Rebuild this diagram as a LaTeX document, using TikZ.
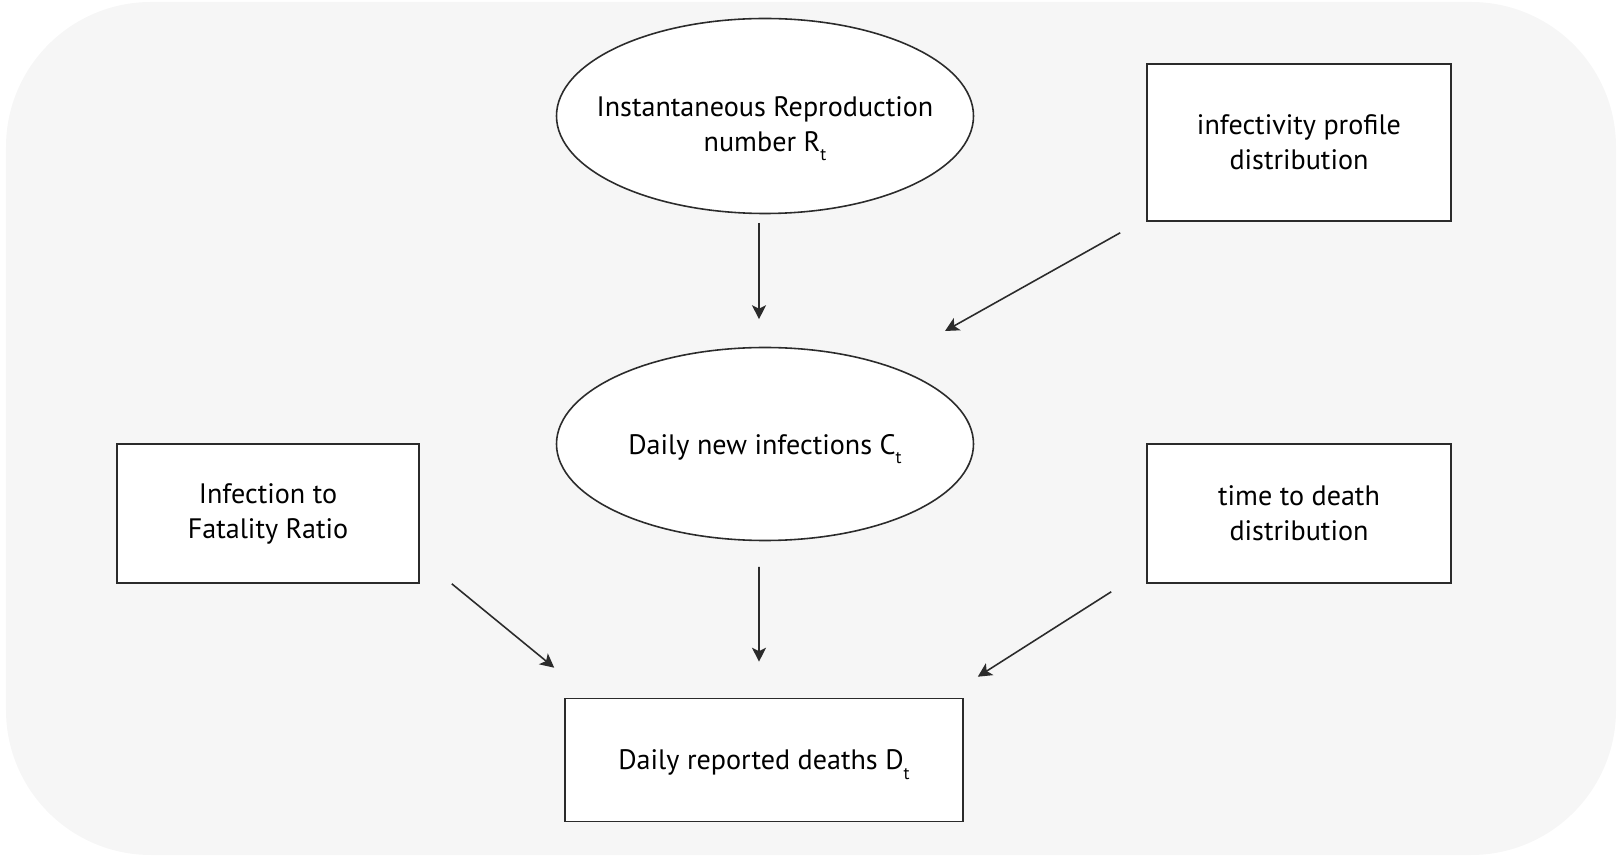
\documentclass[tikz,border=0pt]{standalone}
\usepackage{fontspec}
\setmainfont{PT Sans}
\usetikzlibrary{shapes.geometric,arrows.meta}
\definecolor{panelgray}{HTML}{F6F6F6}
\definecolor{linegray}{HTML}{2B2B2B}
\newcommand{\lowsub}[1]{\raisebox{-2.6pt}{\fontsize{5}{5}\selectfont #1}}
\tikzset{
  quantity/.style={ellipse, draw=linegray, fill=white, line width=0.45pt,
    minimum width=4.17cm, minimum height=1.95cm, inner sep=-0.3cm, align=center},
  inputbox/.style={rectangle, draw=linegray, fill=white, line width=0.45pt,
    minimum width=3.04cm, minimum height=1.39cm, inner sep=0pt, align=center},
  flow/.style={-{Stealth[length=1.4mm,width=1.4mm,inset=0.35mm]}, draw=linegray, line width=0.45pt}
}
\begin{document}
\begin{tikzpicture}[node distance=2cm, font=\fontsize{8}{10}\selectfont]
            \useasboundingbox (0,0) rectangle (16.19,8.57);
            \fill[panelgray, rounded corners=1.45cm] (0.06,0.02) rectangle (16.16,8.55);
            \node(R) [quantity, text height=0.8cm] at (7.65,7.41) {Instantaneous Reproduction\\number R\lowsub{t}};
            \node(C) [quantity, below of=R, node distance=3.28cm, minimum height=1.93cm, text depth=0pt] {Daily new infections C\lowsub{t}};
            \node(D) [inputbox, below of=C, node distance=3.16cm, minimum width=3.98cm, minimum height=1.23cm, xshift=-0.01cm, text depth=0pt] {Daily reported deaths D\lowsub{t}};
            \node(info) [inputbox, right of=R, node distance=5.34cm, yshift=-0.265cm, minimum height=1.57cm] {infectivity profile\\distribution};
            \node(death) [inputbox, below of=info, node distance=3.71cm] {time to death\\distribution};
            \node(IFR) [inputbox, left of=death, node distance=10.31cm, minimum width=3.02cm] {Infection to\\Fatality Ratio};
            \draw[flow, shorten <=0.085cm, shorten >=0.275cm]([xshift=-0.06cm]R.south) to ([xshift=-0.06cm]C.north);
            \draw[flow, shorten <=0.255cm, shorten >=0.36cm]([xshift=-0.06cm]C.south) to ([xshift=-0.05cm]D.north);
            \draw[flow]([xshift=-0.26cm, yshift=-0.11cm]info.south west) to ([shift={(1.8,1.13)}]C.center);
            \draw[flow]([xshift=0.32cm]IFR.south east) to ([xshift=-0.10cm, yshift=0.30cm]D.north west);
            \draw[flow]([xshift=-0.35cm, yshift=-0.08cm]death.south west) to ([xshift=0.14cm, yshift=0.21cm]D.north east);
            \end{tikzpicture}
\end{document}
